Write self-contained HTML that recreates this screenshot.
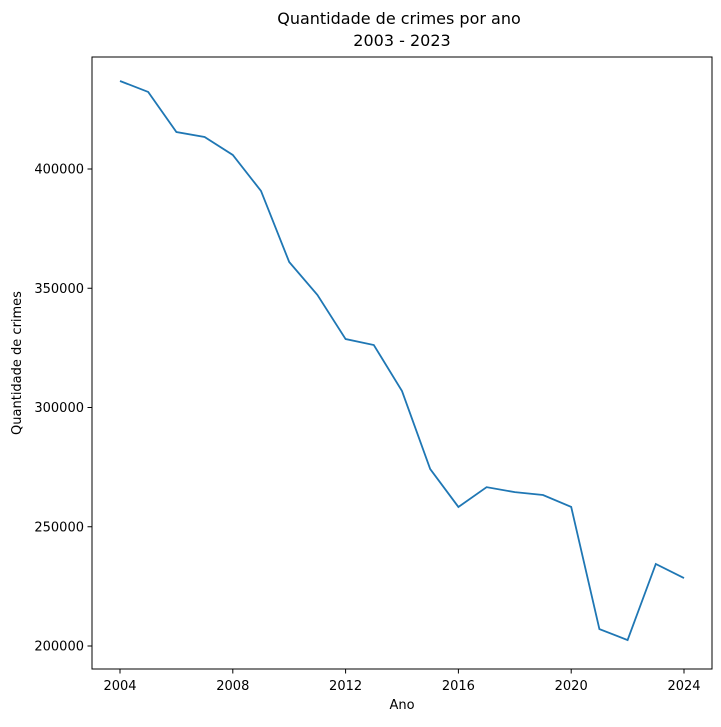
<!DOCTYPE html>
<html><head><meta charset="utf-8"><style>
body{margin:0;background:#fff;font-family:"Liberation Sans","DejaVu Sans",sans-serif}
svg text{font-family:"DejaVu Sans","Liberation Sans",sans-serif;fill:#000}
</style></head><body>
<svg id="chart" width="721" height="722" xmlns="http://www.w3.org/2000/svg">
<text x="399" y="24" font-size="16" text-anchor="middle">Quantidade de crimes por ano</text>
<text x="402" y="46" font-size="16" text-anchor="middle">2003 - 2023</text>
<rect x="92" y="57" width="620" height="612" fill="none" stroke="#000" stroke-width="1"/>
<g id="xt"></g><g id="yt"></g>
<text x="402" y="709" font-size="13" text-anchor="middle">Ano</text>
<text transform="translate(21,363) rotate(-90)" font-size="13" text-anchor="middle">Quantidade de crimes</text>
<path id="line" fill="none" stroke="#1f77b4" stroke-width="1.8"/>
</svg>
<script>
const years=[2004,2005,2006,2007,2008,2009,2010,2011,2012,2013,2014,2015,2016,2017,2018,2019,2020,2021,2022,2023,2024];
const crimes=[436900,432300,415500,413400,405900,390800,361000,347200,328700,326200,306900,274200,258300,266600,264500,263300,258300,207100,202500,234400,228500];
const xTicks=[2004,2008,2012,2016,2020,2024];
const yTicks=[200000,250000,300000,350000,400000];
const NS="http://www.w3.org/2000/svg";
function xs(v){return 120+(v-2004)*(684-120)/20;}
function ys(v){return 646-(v-200000)*(646-169)/200000;}
const xt=document.getElementById('xt'),yt=document.getElementById('yt');
xTicks.forEach(t=>{
 const l=document.createElementNS(NS,'line');
 l.setAttribute('x1',xs(t));l.setAttribute('x2',xs(t));l.setAttribute('y1',669);l.setAttribute('y2',673.5);l.setAttribute('stroke','#000');
 
 
 xt.appendChild(l);
 const tx=document.createElementNS(NS,'text');
 tx.setAttribute('x',xs(t));tx.setAttribute('y',690);tx.setAttribute('font-size','13');tx.setAttribute('text-anchor','middle');tx.textContent=t;
 
 
 xt.appendChild(tx);
});
yTicks.forEach(t=>{
 const l=document.createElementNS(NS,'line');
 l.setAttribute('x1',87.5);l.setAttribute('x2',92);l.setAttribute('y1',ys(t));l.setAttribute('y2',ys(t));l.setAttribute('stroke','#000');
 
 
 yt.appendChild(l);
 const tx=document.createElementNS(NS,'text');
 tx.setAttribute('x',84);tx.setAttribute('y',ys(t)+4.5);tx.setAttribute('font-size','13');tx.setAttribute('text-anchor','end');tx.textContent=t;
 
 
 yt.appendChild(tx);
});
document.getElementById('line').setAttribute('d',years.map((y,i)=>(i?'L':'M')+xs(y)+','+ys(crimes[i])).join(' '));
</script>
</body></html>
